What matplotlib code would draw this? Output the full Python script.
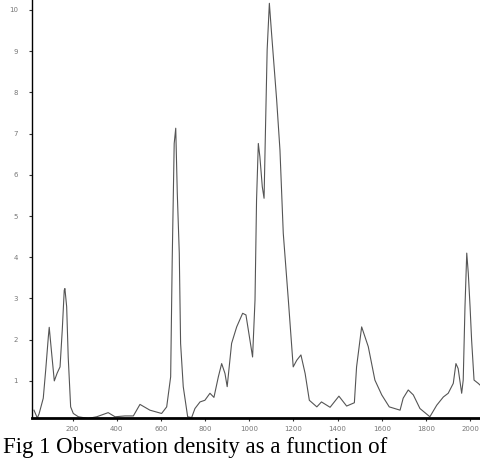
import matplotlib
matplotlib.use("Agg")
import matplotlib.pyplot as plt

# observation density
pos = [25, 40, 48, 67, 78, 90, 94, 105, 117, 130, 143, 153, 162, 165, 173, 180, 191, 203,
       226, 270, 309, 361, 392, 437, 475, 505, 550, 603, 626, 644, 651, 660, 667, 674, 683,
       689, 701, 721, 739, 754, 777, 799, 822, 840, 860, 875, 890, 900, 920, 943, 970, 985,
       1003, 1015, 1026, 1033, 1041, 1048, 1059, 1067, 1074, 1081, 1091, 1101, 1124, 1139,
       1154, 1177, 1199, 1215, 1234, 1253, 1272, 1306, 1327, 1366, 1406, 1441, 1476, 1486,
       1509, 1539, 1569, 1600, 1634, 1683, 1697, 1720, 1743, 1773, 1818, 1849, 1879, 1901,
       1924, 1936, 1946, 1962, 1969, 1977, 1985, 1992, 2000, 2007, 2018, 2037, 2045]
dens = [0.29, 0.1, 0.2, 0.58, 1.26, 2.07, 2.3, 1.67, 1.0, 1.19, 1.34, 2.23, 3.2, 3.24, 2.8,
        1.58, 0.37, 0.21, 0.13, 0.09, 0.13, 0.23, 0.13, 0.15, 0.15, 0.43, 0.29, 0.21, 0.37,
        1.1, 3.93, 6.76, 7.13, 5.55, 4.1, 1.91, 0.86, 0.13, 0.11, 0.33, 0.49, 0.53, 0.7, 0.6,
        1.1, 1.42, 1.18, 0.86, 1.91, 2.31, 2.64, 2.6, 1.99, 1.58, 2.96, 5.39, 6.76, 6.44,
        5.71, 5.43, 7.25, 9.03, 10.16, 9.43, 7.82, 6.6, 4.58, 2.96, 1.34, 1.5, 1.63, 1.18,
        0.53, 0.37, 0.49, 0.36, 0.63, 0.39, 0.47, 1.34, 2.31, 1.83, 1.02, 0.66, 0.37, 0.29,
        0.58, 0.78, 0.66, 0.33, 0.13, 0.41, 0.61, 0.7, 0.94, 1.42, 1.3, 0.7, 1.02, 2.8, 4.1,
        3.61, 2.8, 1.99, 1.02, 0.94, 0.9]

xticks = [200, 400, 600, 800, 1000, 1200, 1400, 1600, 1800, 2000]
yticks = [1, 2, 3, 4, 5, 6, 7, 8, 9, 10]
caption = "Fig 1 Observation density as a function of"

fig = plt.figure(figsize=(4.8, 4.58), dpi=100)
ax = fig.add_axes([32/480, 40/458, 448/480, 418/458])
ax.plot(pos, dens, color='#555555', lw=0.8)

ax.set_xlim(16, 2045)
ax.set_ylim(0.1, 10.24)
ax.set_xticks(xticks)
ax.set_yticks(yticks)
ax.tick_params(labelsize=5, colors='#333333', length=2, width=0.8, pad=8)
ax.tick_params(axis='x', pad=4)
for lbl in ax.get_xticklabels() + ax.get_yticklabels():
    lbl.set_color('#777777')

ax.spines['top'].set_visible(False)
ax.spines['right'].set_visible(False)
ax.spines['bottom'].set_linewidth(2)
ax.spines['left'].set_linewidth(1)

# caption sits at the very bottom, as in the scanned figure
fig.text(3/480, 1 - 437/458, caption, family='Liberation Serif', fontsize=16.5,
         va='top', ha='left', color='black')

fig.savefig('out.png', dpi=100)
